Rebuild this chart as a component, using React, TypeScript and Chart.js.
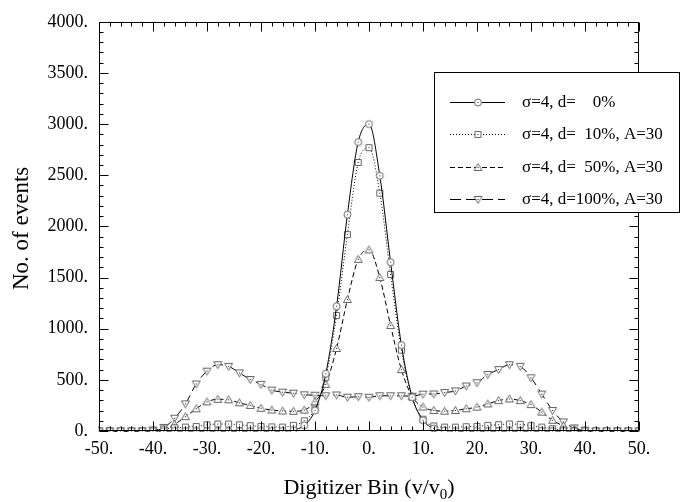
import React, { useEffect, useRef } from "react";
import { Chart, registerables } from "chart.js";

Chart.register(...registerables);

const FONT = "'Liberation Serif', 'Times New Roman', serif";

// Digitizer bins (v/v0)
const BIN_X = [
  -50, -48, -46, -44, -42, -40, -38, -36, -34, -32,
  -30, -28, -26, -24, -22, -20, -18, -16, -14, -12,
  -10, -8, -6, -4, -2, 0, 2, 4, 6, 8,
  10, 12, 14, 16, 18, 20, 22, 24, 26, 28,
  30, 32, 34, 36, 38, 40, 42, 44, 46, 48, 50,
];

// sigma=4, d=0%
const D0 = [
  0, 0, 0, 0, 0, 0, 0, 0, 0, 0,
  0, 0, 0, 0, 0, 0, 0, 0, 10, 55,
  200, 560, 1220, 2115, 2825, 3000, 2495, 1650, 840, 330,
  105, 25, 5, 0, 0, 0, 0, 0, 0, 0,
  0, 0, 0, 0, 0, 0, 0, 0, 0, 0, 0,
];

// sigma=4, d=10%, A=30
const D10 = [
  0, 0, 0, 0, 2, 8, 20, 30, 38, 45,
  60, 68, 68, 60, 52, 45, 40, 38, 55, 100,
  215, 525, 1130, 1920, 2625, 2770, 2325, 1530, 790, 330,
  115, 50, 38, 38, 42, 45, 55, 62, 68, 65,
  52, 38, 22, 10, 4, 0, 0, 0, 0, 0, 0,
];

// sigma=4, d=50%, A=30
const D50 = [
  0, 0, 0, 0, 0, 5, 20, 65, 140, 217,
  285, 310, 305, 275, 250, 222, 205, 196, 193, 205,
  285, 456, 807, 1285, 1678, 1770, 1500, 1031, 600, 336,
  235, 201, 194, 201, 217, 233, 265, 297, 313, 297,
  258, 185, 105, 50, 18, 5, 0, 0, 0, 0, 0,
];

// sigma=4, d=100%, A=30
const D100 = [
  0, 0, 0, 0, 0, 8, 35, 125, 265, 460,
  585, 648, 632, 568, 504, 456, 400, 380, 370, 354,
  350, 344, 352, 330, 335, 330, 344, 344, 344, 340,
  360, 362, 376, 392, 440, 472, 552, 600, 648, 632,
  520, 361, 201, 89, 30, 8, 0, 0, 0, 0, 0,
];

const LEGEND_PREFIX = "σ=4, d=";
const LEGEND_VALUES = ["0%", "10%", "50%", "100%"];
const LEGEND_SUFFIX = ["", ", A=30", ", A=30", ", A=30"];

const X_TITLE = "Digitizer Bin (v/v";
const X_TITLE_SUB = "0";
const X_TITLE_END = ")";
const Y_TITLE = "No. of events";

function makeMarker(kind: string): HTMLCanvasElement {
  const c = document.createElement("canvas");
  c.width = 11;
  c.height = 11;
  const g = c.getContext("2d")!;
  g.fillStyle = "#fff";
  g.strokeStyle = "#666";
  g.lineWidth = 1;
  g.beginPath();
  if (kind === "circle") g.arc(5.5, 5.5, 3.5, 0, Math.PI * 2);
  else if (kind === "square") g.rect(2.5, 2.5, 6, 6);
  else if (kind === "up") {
    g.moveTo(5.5, 1.5);
    g.lineTo(9.5, 8.5);
    g.lineTo(1.5, 8.5);
    g.closePath();
  } else {
    g.moveTo(1.5, 2.5);
    g.lineTo(9.5, 2.5);
    g.lineTo(5.5, 9.5);
    g.closePath();
  }
  g.fill();
  g.stroke();
  g.fillStyle = "#222";
  g.fillRect(5, 5, 1, 1);
  return c;
}

export default function App() {
  const ref = useRef<HTMLCanvasElement | null>(null);

  useEffect(() => {
    const canvas = ref.current;
    if (!canvas) return;
    const markers = {
      circle: makeMarker("circle"),
      square: makeMarker("square"),
      up: makeMarker("up"),
      down: makeMarker("down"),
    };
    const series = [
      { vals: D0, dash: [] as number[], m: markers.circle },
      { vals: D10, dash: [1, 2], m: markers.square },
      { vals: D50, dash: [5, 3], m: markers.up },
      { vals: D100, dash: [11, 5], m: markers.down },
    ];

    const overlay = {
      id: "overlay",
      afterDraw(chart: any) {
        const ctx: CanvasRenderingContext2D = chart.ctx;
        const a = chart.chartArea;
        const xs = chart.scales.x;
        const ys = chart.scales.y;
        ctx.save();
        ctx.strokeStyle = "#000";
        ctx.lineWidth = 1;
        ctx.setLineDash([]);
        const L = Math.round(a.left) + 0.5;
        const R = Math.round(a.right) - 0.5;
        const T = Math.round(a.top) + 0.5;
        const B = Math.round(a.bottom) - 0.5;
        ctx.beginPath();
        ctx.rect(L, T, R - L, B - T);
        for (let v = -50; v <= 50; v += 2) {
          const px = Math.round(xs.getPixelForValue(v)) + 0.5;
          const len = v % 10 === 0 ? 9 : 4;
          ctx.moveTo(px, B);
          ctx.lineTo(px, B - len);
          ctx.moveTo(px, T);
          ctx.lineTo(px, T + len);
        }
        for (let v = 0; v <= 4000; v += 100) {
          const py = Math.round(ys.getPixelForValue(v)) + 0.5;
          const len = v % 500 === 0 ? 9 : 4;
          ctx.moveTo(L, py);
          ctx.lineTo(L + len, py);
          ctx.moveTo(R, py);
          ctx.lineTo(R - len, py);
        }
        ctx.stroke();

        // axis titles
        ctx.fillStyle = "#000";
        ctx.font = `22px ${FONT}`;
        const w1 = ctx.measureText(X_TITLE).width;
        const w3 = ctx.measureText(X_TITLE_END).width;
        ctx.font = `15px ${FONT}`;
        const w2 = ctx.measureText(X_TITLE_SUB).width;
        const cx = (a.left + a.right) / 2;
        let sx = cx - (w1 + w2 + w3) / 2;
        ctx.textAlign = "left";
        ctx.textBaseline = "alphabetic";
        ctx.font = `22px ${FONT}`;
        ctx.fillText(X_TITLE, sx, 494);
        sx += w1;
        ctx.font = `15px ${FONT}`;
        ctx.fillText(X_TITLE_SUB, sx, 499);
        sx += w2;
        ctx.font = `22px ${FONT}`;
        ctx.fillText(X_TITLE_END, sx, 494);

        ctx.save();
        ctx.translate(22, (a.top + a.bottom) / 2 + 2);
        ctx.rotate(-Math.PI / 2);
        ctx.font = `23px ${FONT}`;
        ctx.textAlign = "center";
        ctx.textBaseline = "middle";
        ctx.fillText(Y_TITLE, 0, 0);
        ctx.restore();

        // legend
        const bx = 434, by = 72, bw = 245, bh = 140;
        ctx.fillStyle = "#fff";
        ctx.fillRect(bx, by, bw, bh);
        ctx.strokeStyle = "#000";
        ctx.strokeRect(bx + 0.5, by + 0.5, bw, bh);
        const rows = [101.5, 134, 166.5, 198.5];
        ctx.font = `17px ${FONT}`;
        const pw = ctx.measureText(LEGEND_PREFIX).width;
        const vw = ctx.measureText("100%").width;
        const tx = 522;
        rows.forEach((y, i) => {
          const s = series[i];
          ctx.beginPath();
          ctx.setLineDash(s.dash);
          ctx.strokeStyle = "#000";
          ctx.moveTo(450, Math.round(y) + 0.5);
          ctx.lineTo(505, Math.round(y) + 0.5);
          ctx.stroke();
          ctx.setLineDash([]);
          ctx.drawImage(s.m, 478 - 5.5, Math.round(y) - 5);
          ctx.fillStyle = "#000";
          ctx.textBaseline = "middle";
          ctx.textAlign = "left";
          ctx.fillText(LEGEND_PREFIX, tx, y + 1);
          ctx.textAlign = "right";
          const vr = tx + pw + vw;
          ctx.fillText(LEGEND_VALUES[i], vr, y + 1);
          ctx.textAlign = "left";
          if (LEGEND_SUFFIX[i]) ctx.fillText(LEGEND_SUFFIX[i], vr, y + 1);
        });
        ctx.restore();
      },
    };

    const chart = new Chart(canvas, {
      type: "line",
      data: {
        datasets: series.map((s, i) => ({
          label: LEGEND_PREFIX + LEGEND_VALUES[i] + LEGEND_SUFFIX[i],
          data: BIN_X.map((x, j) => ({ x, y: s.vals[j] })),
          borderColor: "#000",
          borderWidth: 1,
          borderDash: s.dash,
          backgroundColor: "#fff",
          pointStyle: s.m as any,
          pointRadius: 4,
          pointHoverRadius: 4,
          cubicInterpolationMode: "monotone" as const,
          fill: false,
          clip: 1,
        })),
      },
      options: {
        responsive: false,
        animation: false,
        devicePixelRatio: 1,
        layout: { padding: { left: 0, right: 46, top: 13, bottom: 0 } },
        plugins: { legend: { display: false }, tooltip: { enabled: false } },
        scales: {
          x: {
            type: "linear",
            min: -50,
            max: 50,
            grid: { display: false, drawTicks: false },
            border: { display: false },
            ticks: {
              stepSize: 10,
              autoSkip: false,
              maxRotation: 0,
              padding: 7,
              color: "#000",
              font: { family: FONT, size: 18 },
              callback: (v: any) => `${v}.`,
            },
            afterFit: (s: any) => {
              s.height = 71;
            },
          },
          y: {
            type: "linear",
            min: 0,
            max: 4000,
            grid: { display: false, drawTicks: false },
            border: { display: false },
            ticks: {
              stepSize: 500,
              padding: 11,
              color: "#000",
              font: { family: FONT, size: 18 },
              callback: (v: any) => `${v}.`,
            },
            afterFit: (s: any) => {
              s.width = 99;
            },
          },
        },
      },
      plugins: [overlay],
    });
    return () => chart.destroy();
  }, []);

  return (
    <div style={{ position: "absolute", left: 0, top: 0, width: 685, height: 502, background: "#fff" }}>
      <canvas ref={ref} width={685} height={502} />
    </div>
  );
}
